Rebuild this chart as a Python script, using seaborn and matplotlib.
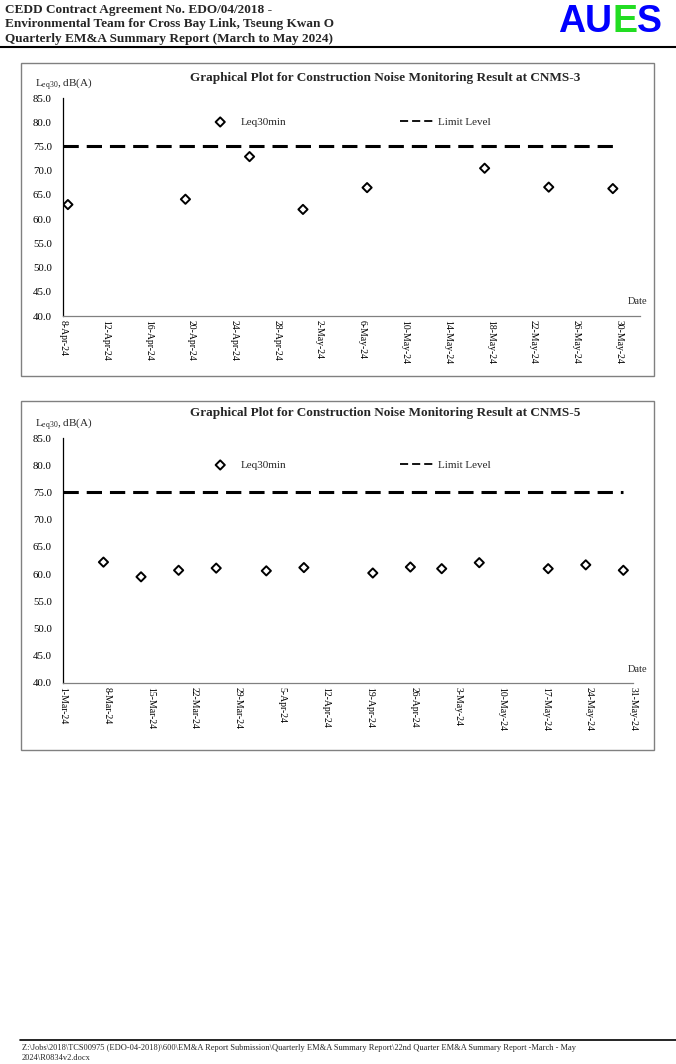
import numpy as np
import pandas as pd
import seaborn as sns
import matplotlib.pyplot as plt
import matplotlib.dates as mdates
from matplotlib.lines import Line2D
from matplotlib.patches import Rectangle

sns.set_theme(style="white")
plt.rcParams["font.family"] = ["Liberation Serif", "DejaVu Serif"]
plt.rcParams["mathtext.fontset"] = "custom"
plt.rcParams["mathtext.rm"] = "Liberation Serif"
plt.rcParams["mathtext.it"] = "Liberation Serif"

# monitoring results (dB(A))
cnms3_dates = ["2024-04-08", "2024-04-19", "2024-04-25", "2024-04-30",
               "2024-05-06", "2024-05-17", "2024-05-23", "2024-05-29"]
cnms3_leq = [63.0, 64.1, 72.9, 62.0, 66.5, 70.5, 66.6, 66.3]

cnms5_dates = ["2024-03-07", "2024-03-13", "2024-03-19", "2024-03-25",
               "2024-04-02", "2024-04-08", "2024-04-19", "2024-04-25",
               "2024-04-30", "2024-05-06", "2024-05-17", "2024-05-23",
               "2024-05-29"]
cnms5_leq = [62.2, 59.5, 60.7, 61.1, 60.6, 61.2, 60.2, 61.3, 61.0, 62.1,
             61.0, 61.7, 60.7]

limit_level = 75.0
monitor_time = pd.Timedelta(hours=11)

W, H = 676, 1064
fig = plt.figure(figsize=(W / 100, H / 100), dpi=100)


def fx(px):
    return px / W


def fy(py):
    return 1 - py / H


# header
header = ["CEDD Contract Agreement No. EDO/04/2018 -",
          "Environmental Team for Cross Bay Link, Tseung Kwan O",
          "Quarterly EM&A Summary Report (March to May 2024)"]
for i, line in enumerate(header):
    fig.text(fx(5), fy(10 + i * 14.5), line, fontsize=9.5, fontweight="bold",
             va="center", ha="left")
logo_x = 558
for letter, col in zip("AUES", ["#0000ff", "#0000ff", "#22dd22", "#0000ff"]):
    t = fig.text(fx(logo_x), fy(22), letter, fontsize=27, fontweight="bold",
                 family="Liberation Sans", color=col, va="center", ha="left")
    fig.canvas.draw()
    logo_x += t.get_window_extent().width
fig.add_artist(Line2D([0, 1], [fy(47), fy(47)], color="black", lw=1.5))

# footer
fig.add_artist(Line2D([fx(20), 1], [fy(1040), fy(1040)], color="black", lw=1.2))
fig.text(fx(22), fy(1048), "Z:\\Jobs\\2018\\TCS00975 (EDO-04-2018)\\600\\EM&A Report Submission"
         "\\Quarterly EM&A Summary Report\\22nd Quarter EM&A Summary Report -March - May",
         fontsize=6, va="center", ha="left")
fig.text(fx(22), fy(1058), "2024\\R0834v2.docx", fontsize=6, va="center", ha="left")


def draw_chart(frame, axbox, dates, leq, xlim, tick_step, station, legend_y, title_y):
    x0, y0, x1, y1 = frame
    fig.add_artist(Rectangle((fx(x0), fy(y1)), fx(x1 - x0), (y1 - y0) / H,
                             fill=False, edgecolor="#808080", lw=1.0))
    l, t, r, b = axbox
    ax = fig.add_axes([fx(l), fy(b), fx(r - l), (b - t) / H])
    when = pd.to_datetime(dates) + monitor_time
    df = pd.DataFrame({"date": when, "leq": leq})
    lim = pd.DataFrame({"date": [pd.Timestamp(xlim[0]), when[-1]],
                        "leq": [limit_level, limit_level]})
    sns.lineplot(data=lim, x="date", y="leq", ax=ax, color="black", lw=2.2,
                 linestyle=(0, (5, 2.6)), label="Limit Level")
    sns.scatterplot(data=df, x="date", y="leq", ax=ax, marker="D", s=22,
                    facecolor="none", edgecolor="black", linewidth=1.4,
                    label="Leq30min", zorder=3)
    ax.set_xlim(pd.Timestamp(xlim[0]), pd.Timestamp(xlim[1]))
    ax.set_ylim(40, 85)
    ax.set_yticks(np.arange(40, 86, 5))
    ax.yaxis.set_major_formatter(plt.FormatStrFormatter("%.1f"))
    ax.set_xticks(pd.date_range(xlim[0], xlim[1], freq=f"{tick_step}D"))
    ax.xaxis.set_major_formatter(mdates.DateFormatter("%-d-%b-%y"))
    ax.tick_params(axis="both", direction="in", length=4, width=0.8,
                   labelsize=7, colors="black", pad=3)
    ax.tick_params(axis="y", labelsize=7.8, pad=8)
    ax.tick_params(axis="x", colors="#808080", labelcolor="black")
    for lab in ax.get_xticklabels():
        lab.set_rotation(270)
        lab.set_ha("center")
        lab.set_va("top")
    for s in ["top", "right"]:
        ax.spines[s].set_visible(False)
    ax.spines["left"].set_color("black")
    ax.spines["bottom"].set_color("#808080")
    ax.spines["left"].set_linewidth(0.9)
    ax.spines["bottom"].set_linewidth(0.9)
    ax.set_xlabel("")
    ax.set_ylabel("")
    ax.set_facecolor("white")
    handles, labels = ax.get_legend_handles_labels()
    order = [labels.index("Leq30min"), labels.index("Limit Level")]
    leg = ax.legend([handles[i] for i in order], [labels[i] for i in order],
                    ncol=2, frameon=False, fontsize=8, handlelength=3.1,
                    handletextpad=0.3, columnspacing=10.2, borderpad=0,
                    borderaxespad=0, loc="center left",
                    bbox_to_anchor=((203 - l) / (r - l), (b - legend_y) / (b - t)))
    for hl in leg.get_lines():
        hl.set_linewidth(1.3)
        hl.set_linestyle((0, (4.5, 2.2)))
    fig.text(fx(35), fy(t - 14), "L$_{\\mathregular{eq30}}$, dB(A)", fontsize=8,
             va="center", ha="left")
    fig.text(fx(647), fy(b - 14), "Date", fontsize=7.5, va="center", ha="right")
    fig.text(fx(385), fy(title_y), "Graphical Plot for Construction Noise Monitoring Result at " + station,
             fontsize=9.5, fontweight="bold", va="center", ha="center")
    return ax


draw_chart((21, 63, 654, 376), (63, 98, 640, 316), cnms3_dates, cnms3_leq,
           ("2024-04-08", "2024-06-01"), 4, "CNMS-3", 122, 78)
draw_chart((21, 401, 654, 750), (63, 438, 633, 683), cnms5_dates, cnms5_leq,
           ("2024-03-01", "2024-05-31"), 7, "CNMS-5", 465, 413)

fig.savefig("out.png", dpi=100, facecolor="white")
